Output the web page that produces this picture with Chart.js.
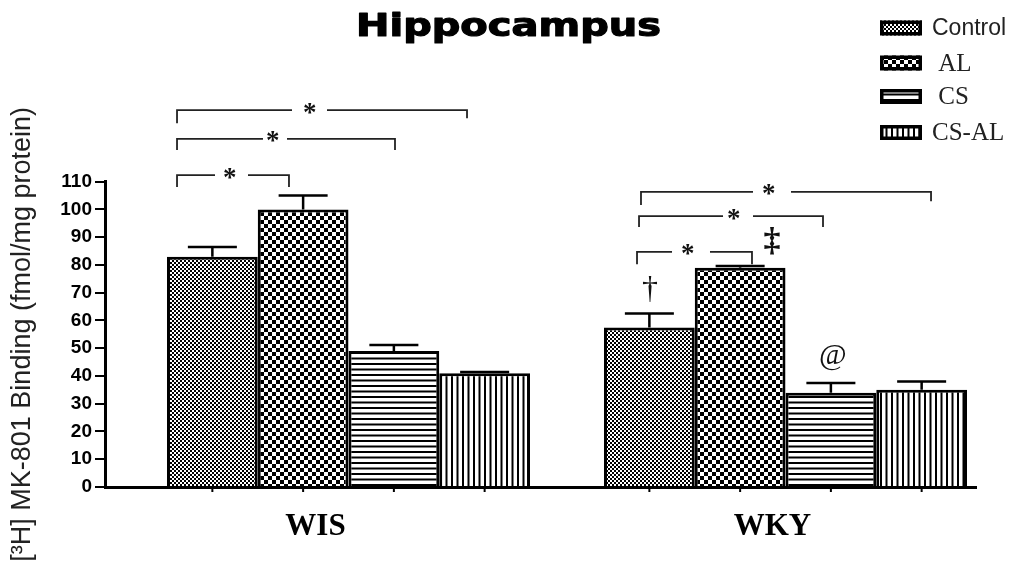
<!DOCTYPE html>
<html>
<head>
<meta charset="utf-8">
<script src="https://cdn.jsdelivr.net/npm/chart.js@4.4.0/dist/chart.umd.min.js"></script>
<style>
  html, body { margin: 0; padding: 0; background: #fff; }
  #wrap { width: 1021px; height: 570px; position: relative; }
</style>
</head>
<body>
<div id="wrap"><canvas id="chart"></canvas></div>
<script>
// ---- data -------------------------------------------------------------
const groups = ['WIS', 'WKY'];
const groupPos = [0, 1];                 // group centres on the x scale
const groupLabelPos = [-0.0755, 0.970];  // where the strain names are printed
const seriesNames = ['Control', ' AL', ' CS', 'CS-AL'];

const controlMean = [83, 57.5];
const alMean      = [100, 79];
const csMean      = [49, 34];
const csalMean    = [41, 35];

const controlSem = [3.5, 5];
const alSem      = [5, 0.6];
const csSem      = [2.2, 3.5];
const csalSem    = [0.4, 3];

const yMin = 0, yMax = 110, yStep = 10;
const xMin = -0.5572, xMax = 1.4359;

// significance brackets, in axis units (x on the group scale, y in fmol/mg)
const brackets = [
  { x1: -0.3924, x2: 0.2712, y: 135.8, yl: 131.1, yr: 132.9, g1: -0.1293, g2: -0.0492, sx: -0.0881 },
  { x1: -0.3924, x2: 0.1064, y: 125.4, yl: 121.4, yr: 121.4, g1: -0.1957, g2: -0.1407, sx: -0.1728 },
  { x1: -0.3924, x2: -0.1362, y: 112.4, yl: 108.1, yr: 108.1, g1: -0.3055, g2: -0.2300, sx: -0.2712 },
  { x1: 0.6693, x2: 1.3330, y: 106.3, yl: 101.6, yr: 103.0, g1: 0.9256, g2: 1.0126, sx: 0.9622 },
  { x1: 0.6648, x2: 1.0858, y: 97.6, yl: 93.7, yr: 93.7, g1: 0.8570, g2: 0.9256, sx: 0.8822 },
  { x1: 0.6602, x2: 0.9233, y: 84.7, yl: 80.3, yr: 80.3, g1: 0.7403, g2: 0.8272, sx: 0.7769 }
];
const symbolText = ['\u2020', '\u2021', '@'];
const symbolX = [0.6899, 0.9691, 1.1087];
const symbolY = [71.2, 88.6, 46.5];

// ---- fill patterns ----------------------------------------------------
function makePattern(w, h, paint) {
  const c = document.createElement('canvas');
  c.width = w; c.height = h;
  const g = c.getContext('2d');
  g.fillStyle = '#fff';
  g.fillRect(0, 0, w, h);
  g.fillStyle = '#000';
  paint(g);
  return document.getElementById('chart').getContext('2d').createPattern(c, 'repeat');
}
const patControl = makePattern(4, 4, g => { g.fillRect(0, 0, 2, 2); g.fillRect(2, 2, 2, 2); });
const patAL = makePattern(8, 8, g => { g.fillRect(0, 0, 4, 4); g.fillRect(4, 4, 4, 4); });
const patCS = makePattern(11, 11, g => { g.fillRect(0, 0, 11, 2); g.fillRect(0, 5.5, 11, 2); });
const patCSAL = makePattern(11, 11, g => { g.fillRect(0, 0, 2, 11); g.fillRect(5.5, 0, 2, 11); });

const means = [controlMean, alMean, csMean, csalMean];
const sems = [controlSem, alSem, csSem, csalSem];
const patterns = [patControl, patAL, patCS, patCSAL];

const datasets = seriesNames.map((name, i) => ({
  label: name.trim(),
  data: groupPos.map((x, j) => ({ x: x, y: means[i][j] })),
  backgroundColor: patterns[i],
  borderColor: '#000',
  borderWidth: 3,
  borderSkipped: 'start',
  categoryPercentage: 0.8307,
  barPercentage: 1.0
}));

// ---- helpers ----------------------------------------------------------
function drawCentred(ctx, text, x, y, font) {
  ctx.font = font;
  const m = ctx.measureText(text);
  const h = m.actualBoundingBoxAscent + m.actualBoundingBoxDescent;
  const w = m.actualBoundingBoxLeft + m.actualBoundingBoxRight;
  ctx.textAlign = 'left';
  ctx.textBaseline = 'alphabetic';
  ctx.fillText(text, x - w / 2 + m.actualBoundingBoxLeft, y - h / 2 + m.actualBoundingBoxAscent);
}

// ---- plugins ----------------------------------------------------------
const errorBars = {
  id: 'errorBars',
  afterDatasetsDraw(chart) {
    const ctx = chart.ctx, ys = chart.scales.y;
    ctx.save();
    ctx.strokeStyle = '#000';
    ctx.lineWidth = 2.5;
    chart.data.datasets.forEach((ds, i) => {
      chart.getDatasetMeta(i).data.forEach((bar, j) => {
        const top = ys.getPixelForValue(means[i][j] + sems[i][j]);
        const half = bar.width * 0.27;
        ctx.beginPath();
        ctx.moveTo(bar.x, bar.y);
        ctx.lineTo(bar.x, top);
        ctx.moveTo(bar.x - half, top);
        ctx.lineTo(bar.x + half, top);
        ctx.stroke();
      });
    });
    // small tick under each bar on the category axis
    const base = chart.scales.x.top;
    ctx.lineWidth = 2;
    chart.data.datasets.forEach((ds, i) => {
      chart.getDatasetMeta(i).data.forEach(bar => {
        ctx.beginPath();
        ctx.moveTo(bar.x, base);
        ctx.lineTo(bar.x, base + 5);
        ctx.stroke();
      });
    });
    ctx.restore();
  }
};

const annotations = {
  id: 'annotations',
  afterDraw(chart) {
    const ctx = chart.ctx, xs = chart.scales.x, ys = chart.scales.y;
    const px = v => xs.getPixelForValue(v), py = v => ys.getPixelForValue(v);
    ctx.save();
    ctx.strokeStyle = '#222';
    ctx.fillStyle = '#111';
    ctx.lineWidth = 1.8;
    brackets.forEach(b => {
      ctx.beginPath();
      ctx.moveTo(px(b.x1), py(b.yl));
      ctx.lineTo(px(b.x1), py(b.y));
      ctx.lineTo(px(b.g1), py(b.y));
      ctx.moveTo(px(b.g2), py(b.y));
      ctx.lineTo(px(b.x2), py(b.y));
      ctx.lineTo(px(b.x2), py(b.yr));
      ctx.stroke();
      drawCentred(ctx, '*', px(b.sx), py(b.y) - 2, 'bold 27px "Liberation Serif"');
    });
    const fonts = ['32px "Liberation Serif"', 'bold 34px "Liberation Serif"', '30px "Liberation Serif"'];
    symbolText.forEach((t, k) => drawCentred(ctx, t, px(symbolX[k]), py(symbolY[k]), fonts[k]));

    // heading
    ctx.fillStyle = '#000';
    ctx.strokeStyle = '#000';
    ctx.lineWidth = 1.2;
    ctx.lineJoin = 'round';
    ctx.font = 'bold 32px "DejaVu Sans"';
    const w = ctx.measureText('Hippocampus').width;
    ctx.translate(508.5, 36);
    ctx.scale(305 / w, 1);
    ctx.textAlign = 'center';
    ctx.textBaseline = 'alphabetic';
    ctx.fillText('Hippocampus', 0, 0);
    ctx.strokeText('Hippocampus', 0, 0);
    ctx.restore();

    // key
    ctx.save();
    const rowY = [28, 63, 96.5, 132.5];
    const keyFonts = ['23px "Liberation Sans"', '25px "Liberation Serif"', '25px "Liberation Serif"', '25px "Liberation Serif"'];
    seriesNames.forEach((name, i) => {
      const y = rowY[i];
      ctx.fillStyle = patterns[i];
      ctx.fillRect(880, y - 7.5, 42, 15);
      ctx.strokeStyle = '#000';
      ctx.lineWidth = 3.5;
      ctx.strokeRect(881.75, y - 5.75, 38.5, 11.5);
      ctx.fillStyle = '#222';
      ctx.font = keyFonts[i];
      ctx.textAlign = 'left';
      ctx.textBaseline = 'middle';
      ctx.fillText(name, 932, y + 1);
    });
    ctx.restore();
  }
};

// ---- chart ------------------------------------------------------------
new Chart(document.getElementById('chart'), {
  type: 'bar',
  data: { datasets },
  options: {
    responsive: true,
    maintainAspectRatio: false,
    animation: false,
    layout: { padding: { top: 181.7, right: 45, left: 0, bottom: 0 } },
    plugins: { legend: { display: false }, tooltip: { enabled: false }, title: { display: false } },
    scales: {
      x: {
        type: 'linear',
        min: xMin,
        max: xMax,
        offset: false,
        grid: { display: false, drawTicks: false },
        border: { display: true, color: '#000', width: 3, z: 1 },
        afterBuildTicks: s => { s.ticks = groupLabelPos.map(v => ({ value: v })); },
        afterFit: s => { s.height = 83; },
        ticks: {
          autoSkip: false,
          maxRotation: 0,
          padding: 21,
          color: '#000',
          font: { family: '"Liberation Serif"', size: 31, weight: 'bold' },
          callback: (v, i) => groups[i]
        }
      },
      y: {
        min: yMin,
        max: yMax,
        afterFit: s => { s.width = 105; },
        grid: { drawOnChartArea: false, drawTicks: true, tickLength: 10, lineWidth: 2, color: '#000' },
        border: { display: true, color: '#000', width: 3, z: 1 },
        ticks: {
          stepSize: yStep,
          padding: 3,
          color: '#000',
          font: { family: '"Liberation Sans"', size: 19, weight: 'bold' }
        },
        title: {
          display: true,
          text: '[\u00B3H] MK-801 Binding (fmol/mg protein)',
          color: '#222',
          font: { family: '"Liberation Sans"', size: 27 },
          padding: { top: 6, bottom: 0 }
        }
      }
    }
  },
  plugins: [errorBars, annotations]
});
</script>
</body>
</html>
